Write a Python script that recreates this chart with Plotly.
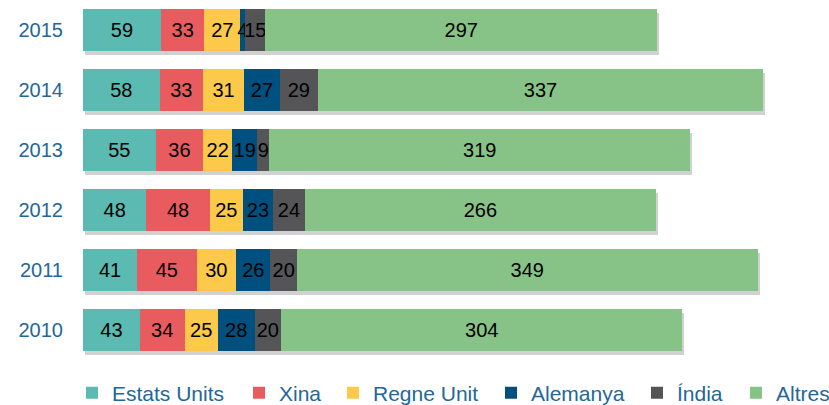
import plotly.graph_objects as go

years = ["2010", "2011", "2012", "2013", "2014", "2015"]
series_names = ["Estats Units", "Xina", "Regne Unit", "Alemanya", "Índia", "Altres"]
estats_units = [43, 41, 48, 55, 58, 59]
xina = [34, 45, 48, 36, 33, 33]
regne_unit = [25, 30, 25, 22, 31, 27]
alemanya = [28, 26, 23, 19, 27, 4]
india = [20, 20, 24, 9, 29, 15]
altres = [304, 349, 266, 319, 337, 297]
colors = ["#5BBAB1", "#E85C60", "#FCC94B", "#00507F", "#555558", "#87C387"]

values = [estats_units, xina, regne_unit, alemanya, india, altres]
totals = [sum(v) for v in zip(*values)]

# legend square left edges (px) in the reference
legend_px = [96, 263, 357, 515, 661, 760]

XMAX = 565
fig = go.Figure()

# soft drop shadow under each stacked bar (drawn on the base axes, slightly shifted)
fig.add_trace(go.Bar(
    y=years, x=totals, base=[1.5] * len(totals), orientation="h",
    marker=dict(color="rgba(90,90,90,0.28)", line=dict(width=0)),
    showlegend=False, hoverinfo="skip", xaxis="x", yaxis="y",
))

for i, (name, vals, col) in enumerate(zip(series_names, values, colors)):
    lg = "legend" if i == 0 else f"legend{i+1}"
    fig.add_trace(go.Bar(
        y=years, x=vals, name=name, orientation="h",
        marker=dict(color=col, line=dict(width=0)),
        text=[str(v) for v in vals], textposition="inside",
        insidetextanchor="middle", textangle=0,
        textfont=dict(color="black", size=20, family="Liberation Sans, Arial"),
        cliponaxis=False, xaxis="x", yaxis="y2", legend=lg,
    ))

shift = 4 / 60.0
layout = dict(
    barmode="stack",
    bargap=0.3,
    width=829, height=405,
    margin=dict(l=83, r=0, t=0, b=45, autoexpand=False),
    plot_bgcolor="white", paper_bgcolor="white",
    uniformtext=dict(minsize=20, mode="show"),
    xaxis=dict(range=[0, XMAX], visible=False, fixedrange=True, automargin=False),
    yaxis=dict(range=[-0.5 + shift, 5.5 + shift], visible=False, automargin=False,
               categoryorder="array", categoryarray=years),
    yaxis2=dict(overlaying="y", range=[-0.5, 5.5], showgrid=False, showline=False,
                ticks="", ticklabelstandoff=19, automargin=False, side="left",
                categoryorder="array", categoryarray=years,
                tickfont=dict(size=20, color="#23679A", family="Liberation Sans, Arial")),
    showlegend=True,
)
for i, px in enumerate(legend_px):
    key = "legend" if i == 0 else f"legend{i+1}"
    layout[key] = dict(
        orientation="h", x=(px - 24) / 829, xref="container", xanchor="left",
        y=12 / 405, yref="container", yanchor="middle",
        font=dict(size=21, color="#23679A", family="Liberation Sans, Arial"),
        itemwidth=30, bgcolor="rgba(0,0,0,0)",
    )
fig.update_layout(**layout)

fig.write_html("out.html", post_script="document.body.style.margin='0';",
               config={"displayModeBar": False})
